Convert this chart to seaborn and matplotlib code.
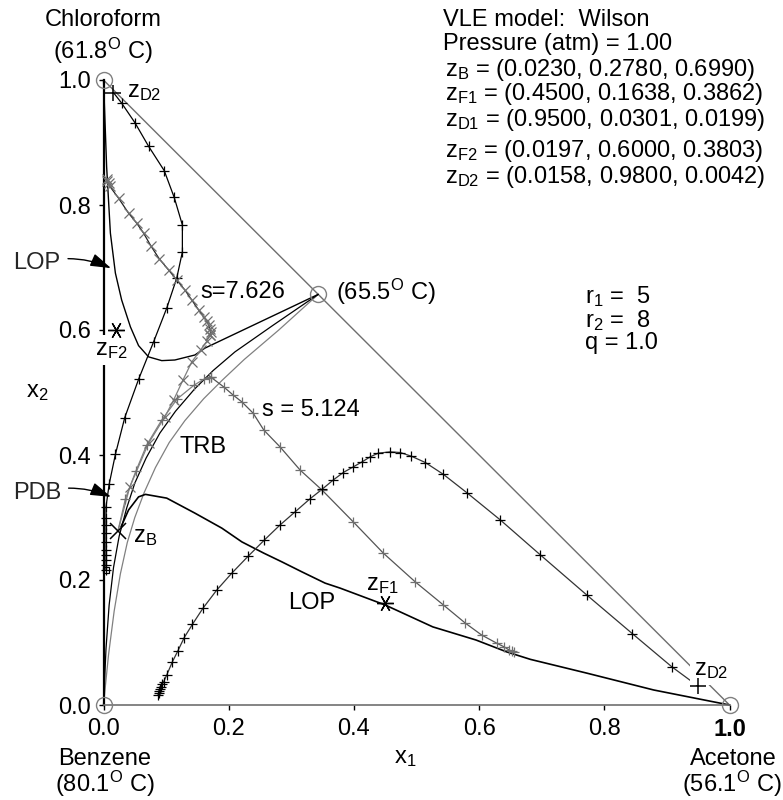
import numpy as np
import pandas as pd
import matplotlib
matplotlib.use("Agg")
import matplotlib.pyplot as plt
import seaborn as sns

# ---------------- data ----------------
tri_x = [0.0, 1.0]
tri_y = [1.0, 0.0]

vert_x = [0.0, 1.0, 0.0, 0.343]
vert_y = [0.0, 0.0, 1.0, 0.657]

# rectifying profile from zD2 (+ markers)
prof_a_x = [0.0158, 0.029, 0.050, 0.072, 0.097, 0.113, 0.126, 0.126, 0.117, 0.101, 0.080, 0.056,
            0.034, 0.019, 0.009, 0.004, 0.004, 0.004, 0.004, 0.004, 0.004, 0.004, 0.004, 0.004, 0.004]
prof_a_y = [0.980, 0.963, 0.932, 0.894, 0.855, 0.812, 0.768, 0.725, 0.683, 0.635, 0.581, 0.521,
            0.460, 0.401, 0.353, 0.317, 0.300, 0.288, 0.275, 0.261, 0.248, 0.240, 0.232, 0.224, 0.216]

# s = 7.626 profile (x markers)
prof_b_x = [0.005, 0.006, 0.008, 0.010, 0.024, 0.040, 0.053, 0.064, 0.076, 0.089, 0.104, 0.117,
            0.130, 0.141, 0.152, 0.160, 0.165, 0.168, 0.170, 0.171, 0.170]
prof_b_y = [0.842, 0.839, 0.835, 0.830, 0.811, 0.787, 0.771, 0.755, 0.734, 0.714, 0.696, 0.680,
            0.664, 0.648, 0.632, 0.621, 0.614, 0.608, 0.602, 0.597, 0.592]
strip_b_x = [0.023, 0.042, 0.072, 0.098, 0.112, 0.127, 0.141, 0.155, 0.165, 0.170]
strip_b_y = [0.278, 0.349, 0.419, 0.461, 0.488, 0.520, 0.549, 0.568, 0.582, 0.592]

# s = 5.124 profiles
strip_c_x = [0.023, 0.035, 0.052, 0.069, 0.093, 0.118, 0.145, 0.160, 0.168, 0.171]
strip_c_y = [0.278, 0.330, 0.375, 0.416, 0.456, 0.490, 0.512, 0.521, 0.524, 0.525]
prof_c_x = [0.171, 0.192, 0.207, 0.221, 0.239, 0.256, 0.282, 0.314, 0.349, 0.399, 0.447, 0.498,
            0.543, 0.578, 0.604, 0.628, 0.640, 0.648, 0.652, 0.655]
prof_c_y = [0.525, 0.509, 0.496, 0.485, 0.467, 0.440, 0.413, 0.376, 0.344, 0.293, 0.243, 0.197,
            0.160, 0.131, 0.112, 0.099, 0.093, 0.088, 0.086, 0.085]

# hump profile to zD1 (+ markers)
prof_d_x = [0.087, 0.088, 0.089, 0.090, 0.092, 0.094, 0.096, 0.101, 0.110, 0.119, 0.129, 0.142,
            0.159, 0.181, 0.205, 0.231, 0.257, 0.282, 0.306, 0.330, 0.349, 0.367, 0.383, 0.399,
            0.413, 0.426, 0.439, 0.458, 0.474, 0.492, 0.514, 0.543, 0.580, 0.634, 0.698, 0.772,
            0.845, 0.908, 0.950]
prof_d_y = [0.016, 0.019, 0.022, 0.025, 0.029, 0.033, 0.037, 0.048, 0.069, 0.087, 0.108, 0.129,
            0.155, 0.184, 0.211, 0.238, 0.264, 0.288, 0.309, 0.330, 0.345, 0.360, 0.372, 0.381,
            0.389, 0.397, 0.403, 0.405, 0.404, 0.398, 0.388, 0.369, 0.340, 0.296, 0.240, 0.176,
            0.114, 0.061, 0.030]

# operating-line (LOP) curves
lop2_x = [0.0, 0.005, 0.011, 0.019, 0.029, 0.043, 0.056, 0.072, 0.093, 0.114, 0.146, 0.162, 0.343]
lop2_y = [1.0, 0.861, 0.755, 0.691, 0.648, 0.605, 0.575, 0.557, 0.551, 0.552, 0.560, 0.571, 0.657]
lop1_x = [0.028, 0.040, 0.056, 0.067, 0.101, 0.146, 0.189, 0.221, 0.256, 0.285, 0.317, 0.354,
          0.378, 0.450, 0.526, 0.595, 0.644, 0.682, 0.772, 0.879, 1.0]
lop1_y = [0.285, 0.312, 0.333, 0.337, 0.331, 0.307, 0.283, 0.261, 0.243, 0.229, 0.213, 0.195,
          0.187, 0.160, 0.125, 0.104, 0.085, 0.073, 0.051, 0.024, 0.0]

# boundaries (PDB black, TRB gray)
pdb_x = [0.343, 0.27, 0.21, 0.175, 0.145, 0.115, 0.09, 0.068, 0.05, 0.037, 0.025, 0.016, 0.009, 0.004, 0.0]
pdb_y = [0.657, 0.607, 0.565, 0.535, 0.505, 0.47, 0.435, 0.395, 0.355, 0.315, 0.27, 0.22, 0.16, 0.09, 0.0]
trb_x = [0.343, 0.28, 0.225, 0.19, 0.16, 0.13, 0.105, 0.083, 0.065, 0.05, 0.038, 0.027, 0.017, 0.008, 0.0]
trb_y = [0.657, 0.600, 0.553, 0.52, 0.49, 0.455, 0.42, 0.38, 0.34, 0.30, 0.26, 0.21, 0.15, 0.08, 0.0]

# specified compositions
zplus_x = [0.0158, 0.95]
zplus_y = [0.98, 0.0301]
zstar_x = [0.0197, 0.45]
zstar_y = [0.60, 0.1638]
zb_x = [0.023]
zb_y = [0.278]

x_ticks = [0.0, 0.2, 0.4, 0.6, 0.8, 1.0]
tick_labels = ["0.0", "0.2", "0.4", "0.6", "0.8", "1.0"]

# ---------------- style ----------------
sns.set_theme(style="white")
plt.rcParams["font.family"] = ["Liberation Sans", "DejaVu Sans"]
plt.rcParams["mathtext.fontset"] = "custom"
plt.rcParams["mathtext.rm"] = "Liberation Sans"
plt.rcParams["mathtext.it"] = "Liberation Sans:italic"
plt.rcParams["mathtext.bf"] = "Liberation Sans:bold"

W, H = 783, 800
FS = 17
fig = plt.figure(figsize=(W / 100, H / 100), dpi=100)
ax = fig.add_axes([103.5 / W, 1 - 705 / H, 626 / W, 625 / H])
ax.set_xlim(0, 1)
ax.set_ylim(0, 1)

GRAY = "#808080"


def curve(xs, ys, color, lw=0.9, z=2, **kw):
    df = pd.DataFrame({"x": xs, "y": ys})
    sns.lineplot(data=df, x="x", y="y", sort=False, estimator=None, color=color,
                 linewidth=lw, ax=ax, zorder=z, clip_on=False, **kw)


def marks(xs, ys, marker, color, ms, mew=0.9, z=3, **kw):
    df = pd.DataFrame({"x": xs, "y": ys})
    sns.lineplot(data=df, x="x", y="y", sort=False, estimator=None, linestyle="none",
                 marker=marker, markersize=ms, markeredgecolor=color, markerfacecolor="none",
                 markeredgewidth=mew, color=color, ax=ax, zorder=z, clip_on=False, **kw)


curve(tri_x, tri_y, "#6e6e6e", lw=1.0)
curve(trb_x, trb_y, GRAY, lw=0.9)
curve(pdb_x, pdb_y, "black", lw=0.9)
curve(lop2_x, lop2_y, "black", lw=1.0)
curve(lop1_x, lop1_y, "black", lw=1.2)
curve(prof_a_x, prof_a_y, "black", lw=0.9)
marks(prof_a_x[1:], prof_a_y[1:], "+", "black", 7)
curve(prof_b_x, prof_b_y, "#222222", lw=0.9)
marks(prof_b_x, prof_b_y, "x", "#707070", 6.5)
curve(strip_b_x, strip_b_y, GRAY, lw=0.9)
marks(strip_b_x[1:], strip_b_y[1:], "x", "#707070", 6.5)
curve(strip_c_x, strip_c_y, GRAY, lw=0.9)
marks(strip_c_x[1:], strip_c_y[1:], "+", "#707070", 7)
curve(prof_c_x, prof_c_y, "#555555", lw=0.9)
marks(prof_c_x, prof_c_y, "+", "#707070", 7.5)
curve(prof_d_x, prof_d_y, "#333333", lw=0.9)
marks(prof_d_x[:-1], prof_d_y[:-1], "+", "black", 7)
marks([prof_a_x[-1]], [prof_a_y[-1]], "s", "black", 4, z=4)

marks(vert_x, vert_y, "o", GRAY, 11.5, mew=1.0, z=5)
marks(zplus_x, zplus_y, "+", "black", 12, mew=1.1, z=6)
marks(zstar_x, zstar_y, (6, 2, 90), "black", 12, mew=1.0, z=6)
marks(zb_x, zb_y, "x", "black", 11, mew=1.1, z=6)

# axes styling
for s in ["top", "right"]:
    ax.spines[s].set_visible(False)
ax.spines["left"].set_color("black")
ax.spines["left"].set_linewidth(1.6)
ax.spines["bottom"].set_color("#707070")
ax.spines["bottom"].set_linewidth(1.2)
ax.set_xticks(x_ticks)
ax.set_yticks(x_ticks)
ax.set_xticklabels(tick_labels)
ax.set_yticklabels(tick_labels)
ax.tick_params(bottom=True, left=True, direction="out", length=3.6, width=1.0,
               pad=5.5, labelsize=FS, colors="black")
ax.get_xticklabels()[-1].set_fontweight("bold")
ax.set_xlabel("")
ax.set_ylabel("")


def ftxt(px, py, s, ha="left", va="center", box=False, z=4, **kw):
    kw2 = dict(ha=ha, va=va, fontsize=FS, color="black", transform=fig.transFigure, zorder=z)
    if box:
        kw2["bbox"] = dict(facecolor="white", edgecolor="none", pad=2.5)
    kw2.update(kw)
    ax.text(px / W, 1 - py / H, s, **kw2)


deg = r"$^{\mathregular{O}}$"
ftxt(103, 20, "Chloroform", ha="center")
ftxt(103, 51, "(61.8" + deg + " C)", ha="center")
ftxt(105, 759, "Benzene", ha="center")
ftxt(105, 784, "(80.1" + deg + " C)", ha="center")
ftxt(733, 759, "Acetone", ha="center")
ftxt(782, 784, "(56.1" + deg + " C)", ha="right")
ftxt(336, 292, "(65.5" + deg + " C)")

ftxt(443, 20, "VLE model:  Wilson")
ftxt(443, 44, "Pressure (atm) = 1.00")
ftxt(445, 70, r"z$_{\mathregular{B}}$ = (0.0230, 0.2780, 0.6990)")
ftxt(445, 107, r"z$_{\mathregular{F1}}$ = (0.4500, 0.1638, 0.3862)" "\n"
     r"z$_{\mathregular{D1}}$ = (0.9500, 0.0301, 0.0199)", linespacing=0.98)
ftxt(445, 164, r"z$_{\mathregular{F2}}$ = (0.0197, 0.6000, 0.3803)" "\n"
     r"z$_{\mathregular{D2}}$ = (0.0158, 0.9800, 0.0042)", linespacing=0.98)
ftxt(585, 319, r"r$_{\mathregular{1}}$ =  5" "\n" r"r$_{\mathregular{2}}$ =  8" "\n" "q = 1.0",
     linespacing=0.97)

ftxt(200, 292, "s=7.626")
ftxt(262, 410, "s = 5.124")
ftxt(180, 447, "TRB")
ftxt(127, 92, r"z$_{\mathregular{D2}}$")
ftxt(95, 350, r"z$_{\mathregular{F2}}$", box=True)
ftxt(133, 537, r"z$_{\mathregular{B}}$")
ftxt(366, 585, r"z$_{\mathregular{F1}}$")
ftxt(288, 603, "LOP")
ftxt(694, 670, r"z$_{\mathregular{D2}}$", box=True)
ftxt(37, 392, r"x$_{\mathregular{2}}$", ha="center")
ftxt(405, 758, r"x$_{\mathregular{1}}$", ha="center")

arrow = dict(arrowstyle="-|>,head_length=0.7,head_width=0.22", color="black", lw=1.0,
             mutation_scale=18, connectionstyle="arc3,rad=-0.18", shrinkA=3, shrinkB=0)
ax.annotate("LOP", xy=(0.012, 0.699), xytext=(37 / W, 1 - 263 / H), textcoords="figure fraction",
            xycoords="data", ha="center", va="center", fontsize=FS, arrowprops=arrow,
            annotation_clip=False, zorder=6)
ax.annotate("PDB", xy=(0.012, 0.333), xytext=(37 / W, 1 - 493 / H), textcoords="figure fraction",
            xycoords="data", ha="center", va="center", fontsize=FS, arrowprops=arrow,
            annotation_clip=False, zorder=6)

fig.savefig("out.png", dpi=100)
